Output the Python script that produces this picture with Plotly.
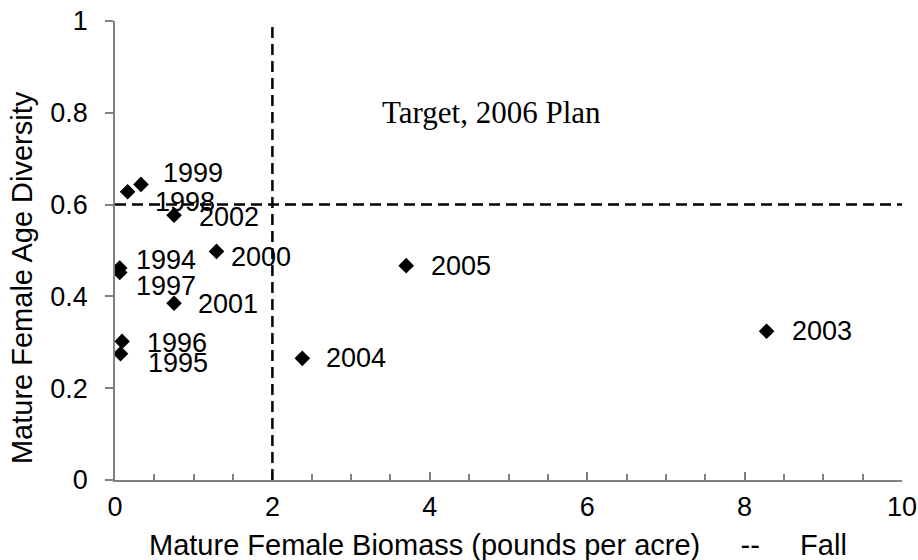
import plotly.graph_objects as go

years = ["1994", "1995", "1996", "1997", "1998", "1999", "2000", "2001", "2002", "2003", "2004", "2005"]
biomass = [0.06, 0.07, 0.09, 0.06, 0.16, 0.33, 1.29, 0.75, 0.75, 8.28, 2.38, 3.70]
diversity = [0.462, 0.275, 0.302, 0.452, 0.628, 0.644, 0.498, 0.385, 0.577, 0.324, 0.265, 0.467]

# label offsets in pixels (style): dx right, dy down
label_dx = [14, 25, 23, 14, 25, 20, 12, 22, 23, 23, 22, 23]
label_dy = [-8, 9, 2, 13, 10, -11, 6, 1, 2, 0, 0, 0]

target_biomass = 2
target_diversity = 0.6

x_ticks = [0, 2, 4, 6, 8, 10]
y_ticks = [0, 0.2, 0.4, 0.6, 0.8, 1]
y_tick_text = ["0", "0.2", "0.4", "0.6", "0.8", "1"]

x_title = "Mature Female Biomass (pounds per acre)\u00a0\u00a0\u00a0\u00a0\u00a0--\u00a0\u00a0\u00a0\u00a0\u00a0Fall"
y_title = "Mature Female Age Diversity"

FONT = "Liberation Sans, Arial, sans-serif"
FS = 27
TFS = 29
AXC = "#808080"

fig = go.Figure()

fig.add_trace(go.Scatter(
    x=biomass, y=diversity, mode="markers",
    marker=dict(symbol="diamond", size=12, color="black", line=dict(width=0)),
    hoverinfo="x+y", showlegend=False,
))

# target lines
fig.add_shape(type="line", x0=target_biomass, x1=target_biomass, y0=0, y1=1,
              xref="x", yref="y", line=dict(color="black", width=2.5, dash="11px,6px"))
fig.add_shape(type="line", x0=0, x1=10, y0=target_diversity, y1=target_diversity,
              xref="x", yref="y", line=dict(color="black", width=2.5, dash="11px,6px"))

for yr, xv, yv, dx, dy in zip(years, biomass, diversity, label_dx, label_dy):
    fig.add_annotation(x=xv, y=yv, text=yr, showarrow=False, xanchor="left", yanchor="middle",
                       xshift=dx, yshift=-dy, font=dict(family=FONT, size=FS, color="black"))

fig.add_annotation(x=4.78, y=0.8, text="Target, 2006 Plan", showarrow=False,
                   xanchor="center", yanchor="middle",
                   font=dict(family="Liberation Serif, Times New Roman, serif", size=31, color="black"))

# axis titles
fig.add_annotation(xref="paper", yref="paper", x=0.487, y=0, yshift=-65, text=x_title,
                   showarrow=False, xanchor="center", yanchor="middle",
                   font=dict(family=FONT, size=TFS, color="black"))
fig.add_annotation(xref="paper", yref="paper", x=0, y=0.44, xshift=-93, text=y_title,
                   textangle=-90, showarrow=False, xanchor="center", yanchor="middle",
                   font=dict(family=FONT, size=TFS, color="black"))

fig.update_layout(
    width=918, height=560,
    margin=dict(l=115, r=16, t=21, b=80, autoexpand=False),
    paper_bgcolor="white", plot_bgcolor="white",
    font=dict(family=FONT, size=FS, color="black"),
    xaxis=dict(
        range=[0, 10], tickvals=x_ticks, ticktext=[str(v) for v in x_ticks],
        showgrid=False, zeroline=False, showline=True, linecolor=AXC, linewidth=1.5,
        ticks="inside", ticklen=8, tickcolor=AXC, tickwidth=1.5, automargin=False,
        minor=dict(dtick=0.5, ticks="inside", ticklen=6, tickcolor=AXC, tickwidth=1.5, showgrid=False),
        tickfont=dict(family=FONT, size=FS), ticklabelstandoff=2,
    ),
    yaxis=dict(
        range=[0, 1], tickvals=y_ticks, ticktext=y_tick_text,
        showgrid=False, zeroline=False, showline=True, linecolor=AXC, linewidth=1.5,
        ticks="outside", ticklen=8, tickcolor=AXC, tickwidth=1.5, automargin=False,
        tickfont=dict(family=FONT, size=FS), ticklabelstandoff=12,
    ),
)

fig.write_html("out.html", config={"displayModeBar": False},
               post_script="document.body.style.margin='0';")
